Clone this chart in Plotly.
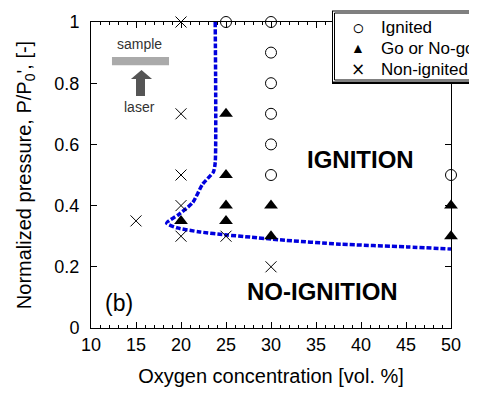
import plotly.graph_objects as go

# ---- data ----
ign_x = [25, 30, 30, 30, 30, 30, 30, 50]
ign_y = [1.0, 1.0, 0.9, 0.8, 0.7, 0.6, 0.5, 0.5]

gng_x = [20, 25, 25, 25, 25, 30, 30, 50, 50]
gng_y = [0.35, 0.7, 0.5, 0.4, 0.35, 0.4, 0.3, 0.4, 0.3]

non_x = [15, 20, 20, 20, 20, 20, 25, 30]
non_y = [0.35, 1.0, 0.7, 0.5, 0.4, 0.3, 0.3, 0.2]

bound_x = [23.8, 23.8, 23.6, 22.4, 21.3, 19.7, 18.4, 19.6, 22.1, 25.1, 27.7, 31.0, 37.7, 45.1, 50.0]
bound_y = [1.0, 0.54, 0.51, 0.47, 0.41, 0.37, 0.343, 0.327, 0.314, 0.304, 0.297, 0.288, 0.274, 0.265, 0.258]

x_ticks = [10, 15, 20, 25, 30, 35, 40, 45, 50]
y_ticks = [0, 0.2, 0.4, 0.6, 0.8, 1]
y_tick_text = ["0", "0.2", "0.4", "0.6", "0.8", "1"]

legend_names = ["Ignited", "Go or No-go", "Non-ignited"]
legend_glyphs = ["\u25CB", "\u25B2", "\u00D7"]

FONT = "Liberation Sans, Arial, sans-serif"
W, H = 477, 393
OFF = 8  # page body margin
L, T = 91 - OFF, 22 - OFF
R = W - (451 - OFF)
B = H - (328 - OFF)

def px(xp):  # page pixel -> paper x
    return (xp - 91) / 360.0

def py(yp):  # page pixel -> paper y
    return (328 - yp) / 306.0

fig = go.Figure()

fig.add_trace(go.Scatter(x=bound_x, y=bound_y, mode="lines", showlegend=False,
                         line=dict(color="#0000dd", width=3.5, dash="5px,2px", shape="spline", smoothing=0.6),
                         cliponaxis=False, hoverinfo="skip"))

fig.add_trace(go.Scatter(x=ign_x, y=ign_y, mode="markers", name=legend_names[0],
                         marker=dict(symbol="circle-open", size=11, color="black", line=dict(width=1)),
                         cliponaxis=False))
fig.add_trace(go.Scatter(x=gng_x, y=gng_y, mode="markers", name=legend_names[1],
                         marker=dict(symbol="triangle-up", size=12, color="black"),
                         cliponaxis=False))
fig.add_trace(go.Scatter(x=non_x, y=non_y, mode="markers", name=legend_names[2],
                         marker=dict(symbol="x-thin-open", size=11, color="black", line=dict(width=1, color="black")),
                         cliponaxis=False))

axis_common = dict(showline=True, linecolor="black", linewidth=1, mirror="ticks",
                   ticks="inside", ticklen=6, tickcolor="black", tickwidth=1,
                   showgrid=False, zeroline=False,
                   tickfont=dict(family=FONT, size=18, color="black"))

fig.update_xaxes(range=[10, 50], tickvals=x_ticks, ticktext=[str(v) for v in x_ticks],
                 minor=dict(dtick=1, ticks="inside", ticklen=3, tickcolor="black", tickwidth=1, showgrid=False),
                 title=dict(text="Oxygen concentration [vol. %]", font=dict(family=FONT, size=20, color="black"), standoff=15),
                 ticklabelstandoff=0, **axis_common)
fig.update_yaxes(range=[0, 1], tickvals=y_ticks, ticktext=y_tick_text,
                 title=dict(text="Normalized pressure, P/P<sub>0</sub>', [-]", font=dict(family=FONT, size=20, color="black"), standoff=17),
                 ticklabelstandoff=7, **axis_common)

# inset icon: sample bar and laser arrow
shapes = [
    dict(type="rect", xref="x", yref="y", x0=12.33, x1=18.67, y0=0.859, y1=0.886,
         fillcolor="#aaaaaa", line=dict(width=0)),
    dict(type="path", xref="x", yref="y",
         path="M 15.61 0.843 L 16.78 0.814 L 16.0 0.814 L 16.0 0.758 L 15.0 0.758 L 15.0 0.814 L 14.44 0.814 Z",
         fillcolor="#555555", line=dict(width=0)),
]

# legend frame: double border with heavy bottom edge (drawn above traces)
def prect(x0, y0, x1, y1, fill, lw=0):
    return dict(type="rect", xref="paper", yref="paper", x0=px(x0), x1=px(x1), y0=py(y1), y1=py(y0),
                fillcolor=fill, line=dict(color="black", width=lw), layer="above")

shapes.append(prect(332, 10.5, 520, 84, "black"))
shapes.append(prect(333, 11.5, 520, 81.5, "white"))
shapes.append(prect(334.5, 13, 520, 80, "white", 1))

annotations = [
    dict(x=15.44, y=0.928, text="sample", showarrow=False, font=dict(family=FONT, size=14, color="#333333")),
    dict(x=15.44, y=0.722, text="laser", showarrow=False, font=dict(family=FONT, size=14, color="#333333")),
    dict(x=39.9, y=0.552, text="<b>IGNITION</b>", showarrow=False, font=dict(family=FONT, size=24, color="black")),
    dict(x=35.67, y=0.118, text="<b>NO-IGNITION</b>", showarrow=False, font=dict(family=FONT, size=24, color="black")),
    dict(x=13.1, y=0.082, text="(b)", showarrow=False, font=dict(family=FONT, size=23, color="black")),
]

row_y = [27, 48, 69]
glyph_sizes = [21, 14, 17]
glyph_fonts = [FONT, FONT, "DejaVu Sans, sans-serif"]
for name, glyph, ry, gs, gf in zip(legend_names, legend_glyphs, row_y, glyph_sizes, glyph_fonts):
    annotations.append(dict(xref="paper", yref="paper", x=px(358), y=py(ry), xanchor="center", yanchor="middle",
                            text=glyph, showarrow=False, font=dict(family=gf, size=gs, color="black")))
    annotations.append(dict(xref="paper", yref="paper", x=px(379), y=py(ry), xanchor="left", yanchor="middle",
                            text=name, showarrow=False, font=dict(family=FONT, size=17, color="black")))

fig.update_layout(
    width=W, height=H,
    margin=dict(l=L, r=R, t=T, b=B, pad=0, autoexpand=False),
    paper_bgcolor="white", plot_bgcolor="white",
    font=dict(family=FONT, color="black"),
    shapes=shapes, annotations=annotations,
    showlegend=False,
)

fig.write_html("out.html")
